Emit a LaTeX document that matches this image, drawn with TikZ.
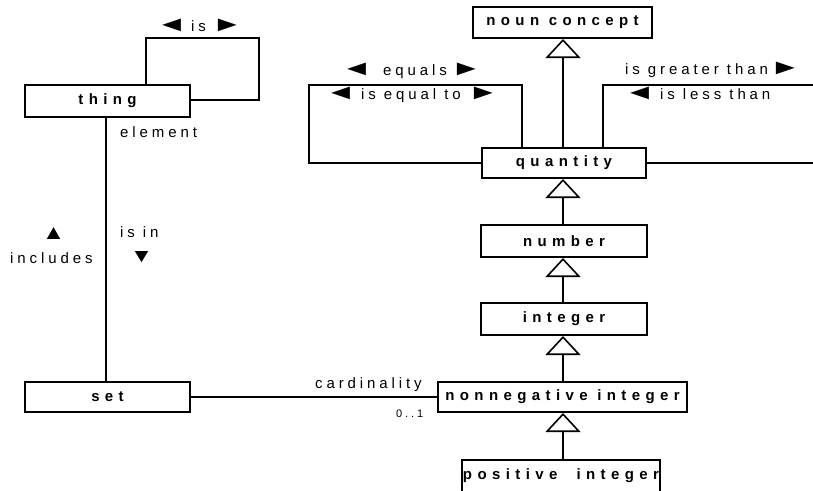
\documentclass[tikz,border=0pt]{standalone}
\usepackage{graphicx}
\usepackage{fontspec}
\setmainfont{Liberation Sans}
\newfontfamily\lblfont[LetterSpace=26]{Liberation Sans}
\newfontfamily\bxfont[LetterSpace=36]{Liberation Sans}
\newfontfamily\trifont{Liberation Sans}
\newcommand\ltri{\makebox[17pt]{\resizebox{31pt}{12.5pt}{\trifont ◄}}}
\newcommand\rtri{\makebox[17pt]{\resizebox{31pt}{12.5pt}{\trifont ►}}}
\newcommand\utri{\makebox[13pt]{\resizebox{23pt}{12pt}{\trifont ▲}}}
\newcommand\dtri{\makebox[13pt]{\resizebox{23pt}{11pt}{\trifont ▼}}}
\usetikzlibrary{arrows.meta}
\begin{document}
\begin{tikzpicture}[x=1pt,y=-1pt,
  cls/.style={draw, line width=2pt, inner sep=0pt, font=\bxfont\bfseries\fontsize{15}{18}\selectfont},
  lnk/.style={line width=1.8pt},
  gen/.style={line width=1.8pt, -{Triangle[open, width=35pt, length=19pt, line width=1.6pt]}},
  lbl/.style={inner sep=0pt, anchor=base west, font=\lblfont\fontsize{15}{18}\selectfont},
  tri/.style={inner sep=0pt},
  small/.style={inner sep=0pt, anchor=base west, font=\lblfont\fontsize{11}{13}\selectfont}]
\useasboundingbox (0,0) rectangle (813,490);
% classes
\node[cls, minimum width=179pt, minimum height=31pt] (noun) at (562.5,22.5) {noun concept};
\node[cls, minimum width=164pt, minimum height=30pt] (quantity) at (564,163) {quantity};
\node[cls, minimum width=166pt, minimum height=32pt] (number) at (564,241) {number};
\node[cls, minimum width=166pt, minimum height=32pt] (integer) at (564,319) {integer};
\node[cls, minimum width=249pt, minimum height=30pt] (nonneg) at (562.5,397) {nonnegative integer};
\node[cls, minimum width=198pt, minimum height=33pt] (positive) at (561,476) {positive\ \ integer};
\node[cls, minimum width=165pt, minimum height=32pt] (thing) at (107.5,101) {thing};
\node[cls, minimum width=165pt, minimum height=30pt] (set) at (107.5,397) {set};
% generalizations
\coordinate (gx) at (563,0);
\draw[gen] (quantity.north -| gx) -- (noun.south -| gx);
\draw[gen] (number.north -| gx) -- (quantity.south -| gx);
\draw[gen] (integer.north -| gx) -- (number.south -| gx);
\draw[gen] (nonneg.north -| gx) -- (integer.south -| gx);
\draw[gen] (positive.north -| gx) -- (nonneg.south -| gx);
% associations
\coordinate (ex) at (106,0);
\draw[lnk] (thing.south -| ex) -- (set.north -| ex);
\draw[lnk] (set.east) -- (nonneg.west);
\coordinate (isL) at (146,38);
\coordinate (isR) at (259,100);
\draw[lnk] (thing.north -| isL) -- (isL) -- (isL -| isR) -- (isR) -- (thing.east |- isR);
\coordinate (eqL) at (309,85);
\coordinate (eqR) at (522,85);
\draw[lnk] (quantity.north -| eqR) -- (eqR) -- (eqL) -- (eqL |- quantity.west) -- (quantity.west);
\coordinate (gtL) at (603,85);
\coordinate (gtR) at (830,85);
\draw[lnk] (quantity.north -| gtL) -- (gtL) -- (gtR) -- (gtR |- quantity.east) -- (quantity.east);
% labels
\node[lbl] (islbl) at (163,31) {\ltri\hspace{11pt}is\hspace{13pt}\rtri};
\node[lbl] (element) at (120,137) {element};
\node[tri] (includesarrow) at (53.5,233) {\utri};
\node[lbl] (includes) at (10,263) {includes};
\node[lbl] (isin) at (120,237) {is in};
\node[tri] (isinarrow) at (141.5,257.5) {\dtri};
\node[lbl] (card) at (315,388) {cardinality};
\node[small] (mult) at (396,417) {0..1};
\node[lbl] (equals) at (348,75) {\ltri\hspace{18pt}equals\hspace{11pt}\rtri};
\node[lbl] (isequal) at (332,99.5) {\ltri\hspace{12pt}is equal to\hspace{14pt}\rtri};
\node[lbl] (greater) at (625,74) {is greater than\hspace{9pt}\rtri};
\node[lbl] (less) at (631,99.5) {\ltri\hspace{12pt}is less than};
\end{tikzpicture}
\end{document}
